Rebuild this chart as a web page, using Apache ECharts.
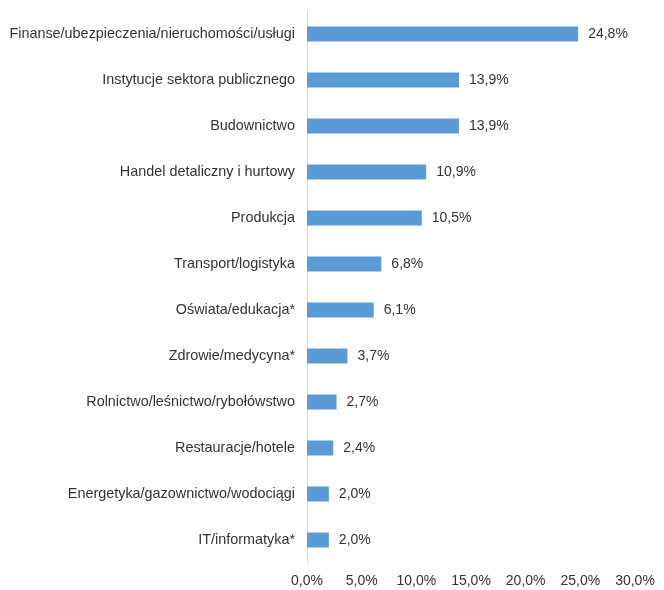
<!DOCTYPE html>
<html><head><meta charset="utf-8">
<script src="https://cdn.jsdelivr.net/npm/echarts@6/dist/echarts.min.js"></script>
<style>html,body{margin:0;padding:0;background:#fff}#c{width:664px;height:590px}</style>
</head><body><div id="c"></div>
<script>
const categories = ["Finanse/ubezpieczenia/nieruchomości/usługi","Instytucje sektora publicznego","Budownictwo","Handel detaliczny i hurtowy","Produkcja","Transport/logistyka","Oświata/edukacja*","Zdrowie/medycyna*","Rolnictwo/leśnictwo/rybołówstwo","Restauracje/hotele","Energetyka/gazownictwo/wodociągi","IT/informatyka*"];
const values = [24.8,13.9,13.9,10.9,10.5,6.8,6.1,3.7,2.7,2.4,2.0,2.0];
const fmt = v => v.toFixed(1).replace('.', ',') + '%';
const chart = echarts.init(document.getElementById('c'));
chart.setOption({
  animation:false,
  textStyle:{fontFamily:'Liberation Sans, Arial, sans-serif'},
  grid:{left:307,right:29,top:11,bottom:27,containLabel:false},
  xAxis:{type:'value',min:0,max:30,interval:5,
    axisLine:{show:false},axisTick:{show:false},splitLine:{show:false},
    axisLabel:{formatter:v=>fmt(v),color:'#333',fontSize:14,margin:11}},
  yAxis:{type:'category',data:categories,inverse:true,
    axisLine:{show:true,lineStyle:{color:'#d9d9d9',width:1}},axisTick:{show:false},
    axisLabel:{color:'#333',fontSize:14.4,margin:12}},
  series:[{type:'bar',data:values,barWidth:15,
    itemStyle:{color:'#5b9bd5'},
    label:{show:true,position:'right',distance:10,color:'#333',fontSize:14,formatter:p=>fmt(p.value)}}]
});
</script></body></html>
